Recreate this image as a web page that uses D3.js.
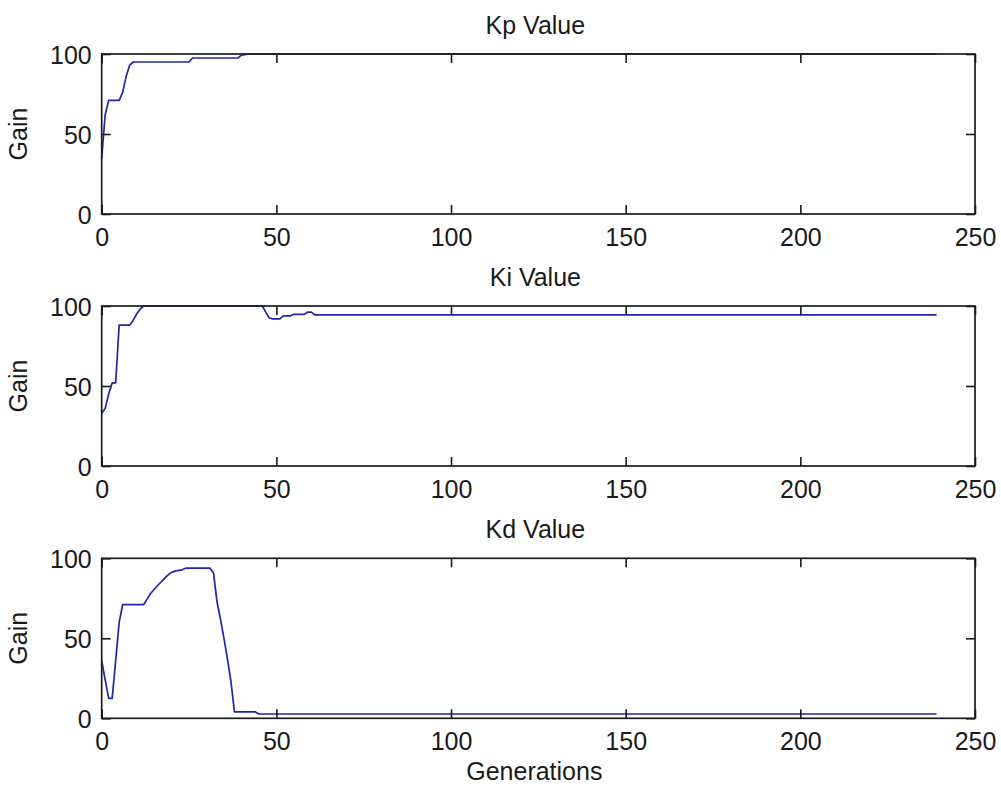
<!DOCTYPE html>
<html>
<head>
<meta charset="utf-8">
<script src="https://cdn.jsdelivr.net/npm/d3@7/dist/d3.min.js"></script>
<style>
  html, body { margin: 0; padding: 0; background: #ffffff; }
  svg { display: block; }
  text { font-family: "Liberation Sans", Arial, Helvetica, sans-serif; fill: #1a1a1a; }
</style>
</head>
<body>
<svg id="chart" width="1001" height="791"></svg>
<script>
// PID gains found by the genetic algorithm, one value per generation (0..239)
const kpValues = [
  35, 62, 71, 71, 71, 71, 76, 86, 93, 95, 95, 95, 95, 95, 95,
  95, 95, 95, 95, 95, 95, 95, 95, 95, 95, 95, 97.5, 97.5, 97.5, 97.5,
  97.5, 97.5, 97.5, 97.5, 97.5, 97.5, 97.5, 97.5, 97.5, 97.5, 99.3, 99.6, 100, 100, 100,
  100, 100, 100, 100, 100, 100, 100, 100, 100, 100, 100, 100, 100, 100, 100,
  100, 100, 100, 100, 100, 100, 100, 100, 100, 100, 100, 100, 100, 100, 100,
  100, 100, 100, 100, 100, 100, 100, 100, 100, 100, 100, 100, 100, 100, 100,
  100, 100, 100, 100, 100, 100, 100, 100, 100, 100, 100, 100, 100, 100, 100,
  100, 100, 100, 100, 100, 100, 100, 100, 100, 100, 100, 100, 100, 100, 100,
  100, 100, 100, 100, 100, 100, 100, 100, 100, 100, 100, 100, 100, 100, 100,
  100, 100, 100, 100, 100, 100, 100, 100, 100, 100, 100, 100, 100, 100, 100,
  100, 100, 100, 100, 100, 100, 100, 100, 100, 100, 100, 100, 100, 100, 100,
  100, 100, 100, 100, 100, 100, 100, 100, 100, 100, 100, 100, 100, 100, 100,
  100, 100, 100, 100, 100, 100, 100, 100, 100, 100, 100, 100, 100, 100, 100,
  100, 100, 100, 100, 100, 100, 100, 100, 100, 100, 100, 100, 100, 100, 100,
  100, 100, 100, 100, 100, 100, 100, 100, 100, 100, 100, 100, 100, 100, 100,
  100, 100, 100, 100, 100, 100, 100, 100, 100, 100, 100, 100, 100, 100, 100
];

const kiValues = [
  33, 36, 45, 52, 52, 88, 88, 88, 88, 91, 95, 98, 100, 100, 100,
  100, 100, 100, 100, 100, 100, 100, 100, 100, 100, 100, 100, 100, 100, 100,
  100, 100, 100, 100, 100, 100, 100, 100, 100, 100, 100, 100, 100, 100, 100,
  100, 100, 96, 92.5, 92, 92, 92, 93.8, 93.8, 93.8, 94.8, 94.8, 94.8, 94.8, 96.2,
  96.2, 94.5, 94.5, 94.5, 94.5, 94.5, 94.5, 94.5, 94.5, 94.5, 94.5, 94.5, 94.5, 94.5, 94.5,
  94.5, 94.5, 94.5, 94.5, 94.5, 94.5, 94.5, 94.5, 94.5, 94.5, 94.5, 94.5, 94.5, 94.5, 94.5,
  94.5, 94.5, 94.5, 94.5, 94.5, 94.5, 94.5, 94.5, 94.5, 94.5, 94.5, 94.5, 94.5, 94.5, 94.5,
  94.5, 94.5, 94.5, 94.5, 94.5, 94.5, 94.5, 94.5, 94.5, 94.5, 94.5, 94.5, 94.5, 94.5, 94.5,
  94.5, 94.5, 94.5, 94.5, 94.5, 94.5, 94.5, 94.5, 94.5, 94.5, 94.5, 94.5, 94.5, 94.5, 94.5,
  94.5, 94.5, 94.5, 94.5, 94.5, 94.5, 94.5, 94.5, 94.5, 94.5, 94.5, 94.5, 94.5, 94.5, 94.5,
  94.5, 94.5, 94.5, 94.5, 94.5, 94.5, 94.5, 94.5, 94.5, 94.5, 94.5, 94.5, 94.5, 94.5, 94.5,
  94.5, 94.5, 94.5, 94.5, 94.5, 94.5, 94.5, 94.5, 94.5, 94.5, 94.5, 94.5, 94.5, 94.5, 94.5,
  94.5, 94.5, 94.5, 94.5, 94.5, 94.5, 94.5, 94.5, 94.5, 94.5, 94.5, 94.5, 94.5, 94.5, 94.5,
  94.5, 94.5, 94.5, 94.5, 94.5, 94.5, 94.5, 94.5, 94.5, 94.5, 94.5, 94.5, 94.5, 94.5, 94.5,
  94.5, 94.5, 94.5, 94.5, 94.5, 94.5, 94.5, 94.5, 94.5, 94.5, 94.5, 94.5, 94.5, 94.5, 94.5,
  94.5, 94.5, 94.5, 94.5, 94.5, 94.5, 94.5, 94.5, 94.5, 94.5, 94.5, 94.5, 94.5, 94.5, 94.5
];

const kdValues = [
  36, 24, 12.5, 12.5, 36, 60, 71, 71, 71, 71, 71, 71, 71, 74.5, 78,
  80.5, 83, 85.2, 87.5, 89.6, 91.2, 92, 92.4, 92.8, 93.8, 93.8, 93.8, 93.8, 93.8, 93.8,
  93.8, 93.8, 91, 73, 62, 50, 37, 23, 4, 4, 4, 4, 4, 4, 4,
  2.7, 2.7, 2.7, 2.7, 2.7, 2.7, 2.7, 2.7, 2.7, 2.7, 2.7, 2.7, 2.7, 2.7, 2.7,
  2.7, 2.7, 2.7, 2.7, 2.7, 2.7, 2.7, 2.7, 2.7, 2.7, 2.7, 2.7, 2.7, 2.7, 2.7,
  2.7, 2.7, 2.7, 2.7, 2.7, 2.7, 2.7, 2.7, 2.7, 2.7, 2.7, 2.7, 2.7, 2.7, 2.7,
  2.7, 2.7, 2.7, 2.7, 2.7, 2.7, 2.7, 2.7, 2.7, 2.7, 2.7, 2.7, 2.7, 2.7, 2.7,
  2.7, 2.7, 2.7, 2.7, 2.7, 2.7, 2.7, 2.7, 2.7, 2.7, 2.7, 2.7, 2.7, 2.7, 2.7,
  2.7, 2.7, 2.7, 2.7, 2.7, 2.7, 2.7, 2.7, 2.7, 2.7, 2.7, 2.7, 2.7, 2.7, 2.7,
  2.7, 2.7, 2.7, 2.7, 2.7, 2.7, 2.7, 2.7, 2.7, 2.7, 2.7, 2.7, 2.7, 2.7, 2.7,
  2.7, 2.7, 2.7, 2.7, 2.7, 2.7, 2.7, 2.7, 2.7, 2.7, 2.7, 2.7, 2.7, 2.7, 2.7,
  2.7, 2.7, 2.7, 2.7, 2.7, 2.7, 2.7, 2.7, 2.7, 2.7, 2.7, 2.7, 2.7, 2.7, 2.7,
  2.7, 2.7, 2.7, 2.7, 2.7, 2.7, 2.7, 2.7, 2.7, 2.7, 2.7, 2.7, 2.7, 2.7, 2.7,
  2.7, 2.7, 2.7, 2.7, 2.7, 2.7, 2.7, 2.7, 2.7, 2.7, 2.7, 2.7, 2.7, 2.7, 2.7,
  2.7, 2.7, 2.7, 2.7, 2.7, 2.7, 2.7, 2.7, 2.7, 2.7, 2.7, 2.7, 2.7, 2.7, 2.7,
  2.7, 2.7, 2.7, 2.7, 2.7, 2.7, 2.7, 2.7, 2.7, 2.7, 2.7, 2.7, 2.7, 2.7, 2.7
];

const panelTitles = ["Kp Value", "Ki Value", "Kd Value"];
const xTicks = [0, 50, 100, 150, 200, 250];
const yTicks = [0, 50, 100];
const yLabel = "Gain";
const xLabel = "Generations";

const svg = d3.select("#chart");
const left = 101.7, right = 975;
const panelTops = [54, 306, 558.3];
const panelHeight = 160;
const tickLen = 9;
const fontSize = 25;
const lineColor = "#2424a8";
const axisColor = "#1a1a1a";

const x = d3.scaleLinear().domain([0, 250]).range([left, right]);

const series = [kpValues, kiValues, kdValues];

series.forEach((values, p) => {
  const top = panelTops[p];
  const bottom = top + panelHeight;
  const y = d3.scaleLinear().domain([0, 100]).range([bottom, top]);
  const g = svg.append("g");

  // data line (drawn first so the axes box sits on top)
  const line = d3.line()
    .x((d, i) => x(i))
    .y(d => y(d));
  g.append("path")
    .datum(values)
    .attr("fill", "none")
    .attr("stroke", lineColor)
    .attr("stroke-width", 1.7)
    .attr("stroke-linejoin", "round")
    .attr("d", line);

  // inward ticks on all four sides
  const styleAxis = sel => {
    sel.select(".domain").remove();
    sel.selectAll(".tick line").attr("stroke", axisColor).attr("stroke-width", 1.6);
    sel.selectAll("text")
      .style("font-size", fontSize + "px")
      .attr("fill", "#1a1a1a");
  };

  g.append("g")
    .attr("transform", `translate(0,${bottom})`)
    .call(d3.axisBottom(x).tickValues(xTicks).tickSizeInner(-tickLen).tickSizeOuter(0).tickPadding(14))
    .call(styleAxis)
    .selectAll("text").attr("dy", null).attr("y", 31.5);

  g.append("g")
    .attr("transform", `translate(0,${top})`)
    .call(d3.axisTop(x).tickValues(xTicks).tickSizeInner(-tickLen).tickSizeOuter(0).tickFormat(""))
    .call(styleAxis);

  g.append("g")
    .attr("transform", `translate(${left},0)`)
    .call(d3.axisLeft(y).tickValues(yTicks).tickSizeInner(-tickLen).tickSizeOuter(0).tickPadding(10))
    .call(styleAxis)
    .selectAll("text").attr("x", -10).attr("dy", "0.36em");

  g.append("g")
    .attr("transform", `translate(${right},0)`)
    .call(d3.axisRight(y).tickValues(yTicks).tickSizeInner(-tickLen).tickSizeOuter(0).tickFormat(""))
    .call(styleAxis);

  // axes box
  g.append("rect")
    .attr("x", left).attr("y", top)
    .attr("width", right - left).attr("height", panelHeight)
    .attr("fill", "none")
    .attr("stroke", axisColor)
    .attr("stroke-width", 1.7);

  // panel title
  g.append("text")
    .attr("x", (left + right) / 2 - 3)
    .attr("y", top - 20.5)
    .attr("text-anchor", "middle")
    .style("font-size", fontSize + "px")
    .text(panelTitles[p]);

  // y-axis label
  g.append("text")
    .attr("transform", `translate(27,${(top + bottom) / 2}) rotate(-90)`)
    .attr("text-anchor", "middle")
    .style("font-size", fontSize + "px")
    .text(yLabel);
});

// x-axis label under the last panel
svg.append("text")
  .attr("x", (left + right) / 2 - 4)
  .attr("y", 780)
  .attr("text-anchor", "middle")
  .style("font-size", fontSize + "px")
  .text(xLabel);
</script>
</body>
</html>
